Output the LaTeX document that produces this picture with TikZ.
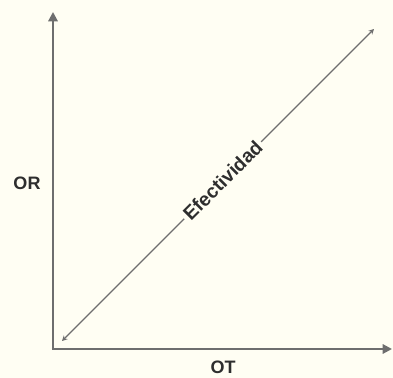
\documentclass[tikz,border=0pt]{standalone}
\usepackage{fontspec}
\setmainfont{Liberation Sans}
\usetikzlibrary{arrows.meta}
\definecolor{bg}{HTML}{FFFEF3}
\definecolor{axis}{HTML}{6E6E6E}
\definecolor{txt}{HTML}{2E2E2E}
\tikzset{
  axisline/.style={draw=axis, line width=1.6pt, -{Triangle[length=7pt,width=7pt]}},
  diagline/.style={draw=axis, line width=1pt, {Stealth[length=4pt,width=4pt]}-{Stealth[length=4pt,width=4pt]}},
  lbl/.style={text=txt, font=\bfseries\fontsize{13.5}{15}\selectfont, inner sep=1pt},
  difflbl/.style={text=txt, font=\bfseries\fontsize{14.5}{16}\selectfont, fill=bg, inner sep=2pt, rotate=45}
}
\begin{document}
\begin{tikzpicture}[x=0.75pt,y=-0.75pt]
\fill[bg] (0,0) rectangle (393,378);
\useasboundingbox (0,0) rectangle (393,378);
\coordinate (O) at (53,349);
\coordinate (Ytop) at (53,12);
\coordinate (Xend) at (392,349);
\coordinate (D1) at (62,341);
\coordinate (D2) at (374,29);
\draw[axisline] (O) -- (Ytop);
\draw[axisline] ([xshift=-0.8pt]O) -- (Xend);
\draw[diagline] (D1) -- (D2) node[difflbl, pos=0.515] (eff) {Efectividad};
\node[lbl] (or) at (27,183) {OR};
\node[lbl] (ot) at (223,367) {OT};
\end{tikzpicture}
\end{document}
